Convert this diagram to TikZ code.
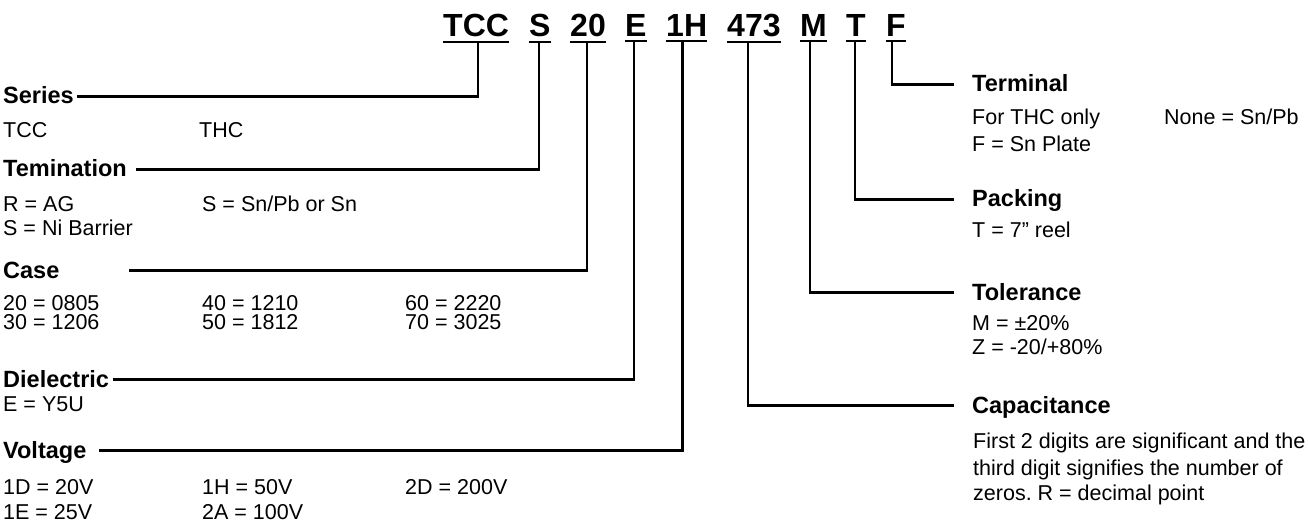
\documentclass[tikz,border=0pt]{standalone}
\usepackage{fontspec}
\setmainfont{Liberation Sans}
\frenchspacing
\begin{document}
\begin{tikzpicture}[x=1pt,y=-1pt,
  code/.style={font=\fontsize{32}{32}\selectfont\bfseries, inner sep=0pt, anchor=base west},
  lbl/.style={font=\fontsize{23.5}{24}\selectfont\bfseries, inner sep=0pt, anchor=base west, text height=15pt, text depth=0pt},
  txt/.style={font=\fontsize{21.5}{21.5}\selectfont, inner sep=0pt, anchor=base west},
  conn/.style={line width=2.5pt, draw=black},
  uline/.style={line width=2pt, draw=black}]
\useasboundingbox (0,0) rectangle (1308,529);
% code letters
\node[code] (tcc) at (443,37) {TCC};
\node[code] (ts) at (529,37) {S};
\node[code] (t20) at (570,37) {20};
\node[code] (te) at (625,37) {E};
\node[code] (t1h) at (666,37) {1H};
\node[code] (t473) at (727,37) {473};
\node[code] (tm) at (800,37) {M};
\node[code] (tt) at (846,37) {T};
\node[code] (tf) at (886,37) {F};
\foreach \n in {tcc,ts,t20,te,t1h,t473,tm,tt,tf}
  \draw[uline] ([yshift=-4pt]\n.south west) -- ([yshift=-4pt]\n.south east);
% left labels
\node[lbl] (series) at (3,104) {Series};
\node[txt] (s1) at (3,138) {TCC};
\node[txt] (s2) at (199,138) {THC};
\node[lbl] (term) at (3,177) {Temination};
\node[txt] (r1) at (3,212) {R = AG};
\node[txt] (r2) at (202,212) {S = Sn/Pb or Sn};
\node[txt] (r3) at (3,236) {S = Ni Barrier};
\node[lbl] (case) at (3,278) {Case};
\node[txt] (c1) at (3,310) {20 = 0805};
\node[txt] (c2) at (202,310) {40 = 1210};
\node[txt] (c3) at (405,310) {60 = 2220};
\node[txt] (c4) at (3,329) {30 = 1206};
\node[txt] (c5) at (202,329) {50 = 1812};
\node[txt] (c6) at (405,329) {70 = 3025};
\node[lbl] (diel) at (3,387) {Dielectric};
\node[txt] (d1) at (3,411) {E = Y5U};
\node[lbl] (volt) at (3,458) {Voltage};
\node[txt] (v1) at (3,494) {1D = 20V};
\node[txt] (v2) at (202,494) {1H = 50V};
\node[txt] (v3) at (405,494) {2D = 200V};
\node[txt] (v4) at (3,519) {1E = 25V};
\node[txt] (v5) at (202,519) {2A = 100V};
% right labels
\node[lbl] (terminal) at (972,92) {Terminal};
\node[txt] (f1) at (972,125) {For THC only};
\node[txt] (f2) at (1164,125) {None = Sn/Pb};
\node[txt] (f3) at (972,152) {F = Sn Plate};
\node[lbl] (packing) at (972,207) {Packing};
\node[txt] (p1) at (972,238) {T = 7” reel};
\node[lbl] (tol) at (972,300) {Tolerance};
\node[txt] (o1) at (972,330) {M = ±20\%};
\node[txt] (o2) at (972,354) {Z = -20/+80\%};
\node[lbl] (capac) at (972,413) {Capacitance};
\node[txt] (a1) at (973,448) {First 2 digits are significant and the};
\node[txt] (a2) at (973,475) {third digit signifies the number of};
\node[txt] (a3) at (973,500) {zeros. R = decimal point};
% connectors
\draw[conn] ([xshift=2pt,yshift=-4pt]tcc.south) |- ([xshift=3pt]series.east);
\draw[conn] ([xshift=-0.7pt,yshift=-4pt]ts.south) |- ([xshift=9pt]term.east);
\draw[conn] ([xshift=-0.8pt,yshift=-4pt]t20.south) |- ([xshift=69pt]case.east);
\draw[conn] ([xshift=-1.7pt,yshift=-4pt]te.south) |- ([xshift=4pt]diel.east);
\draw[conn] ([xshift=-4.4pt,yshift=-4pt]t1h.south) |- ([xshift=12pt]volt.east);
\draw[conn] ([xshift=-5.7pt,yshift=-4pt]t473.south) |- ([xshift=-18pt]capac.west);
\draw[conn] ([xshift=-3.3pt,yshift=-4pt]tm.south) |- ([xshift=-18pt]tol.west);
\draw[conn] ([xshift=-0.8pt,yshift=-4pt]tt.south) |- ([xshift=-18pt]packing.west);
\draw[conn] ([xshift=-3.8pt,yshift=-4pt]tf.south) |- ([xshift=-18pt]terminal.west);
\end{tikzpicture}
\end{document}
